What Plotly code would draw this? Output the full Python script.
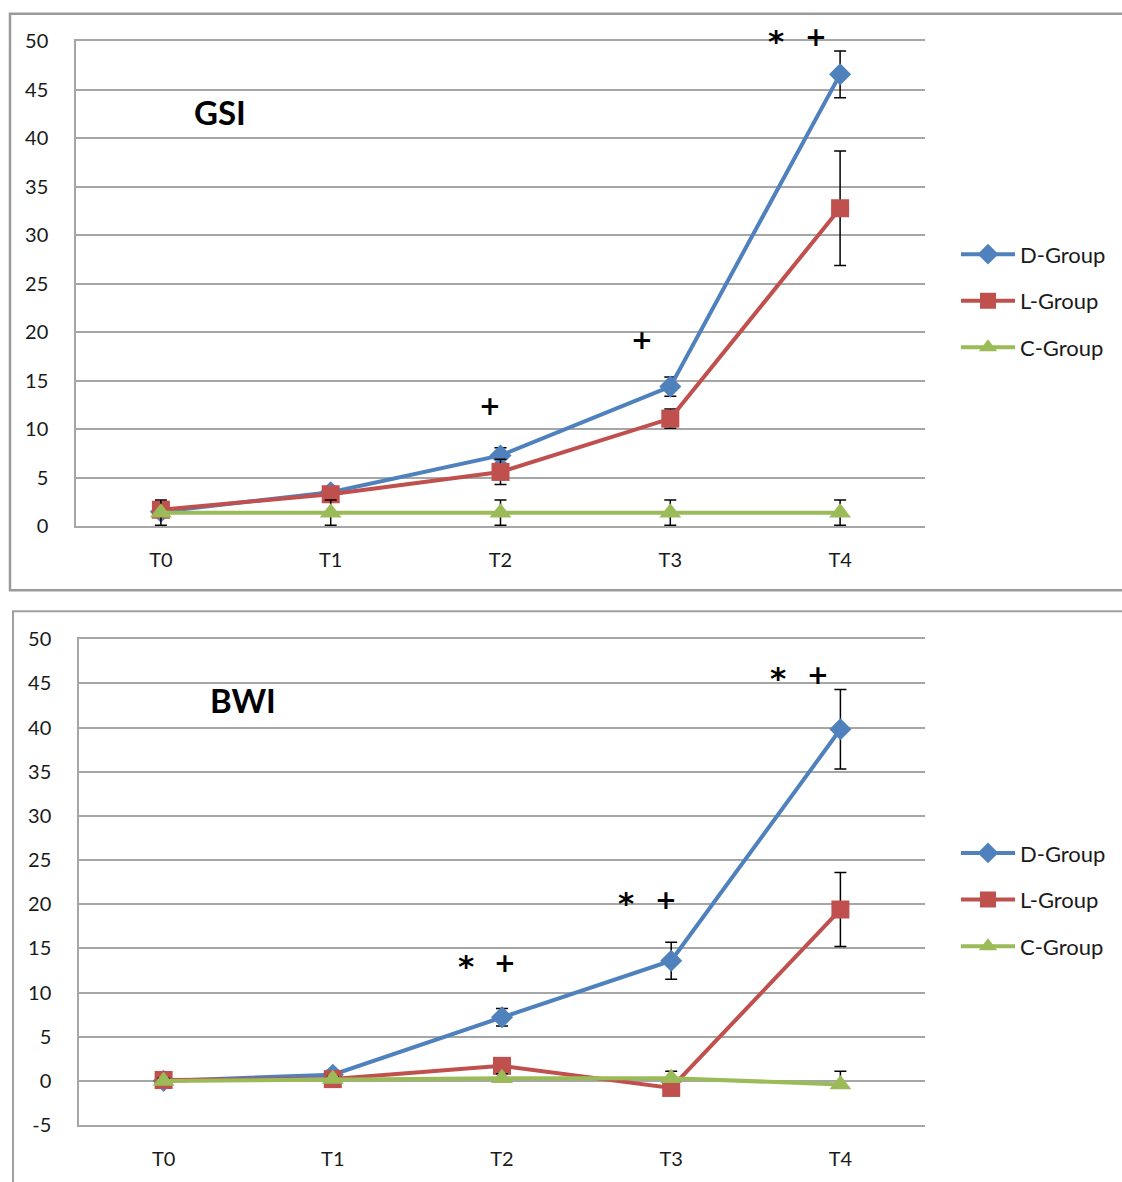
import plotly.graph_objects as go

categories = ["T0", "T1", "T2", "T3", "T4"]
series_names = ["D-Group", "L-Group", "C-Group"]

# GSI panel
gsi_d = [1.5, 3.5, 7.3, 14.4, 46.6]
gsi_l = [1.7, 3.3, 5.6, 11.1, 32.8]
gsi_c = [1.4, 1.4, 1.4, 1.4, 1.4]
gsi_d_err = [0.3, 0.5, 0.8, 1.0, 2.4]
gsi_l_err = [0.3, 0.5, 1.3, 1.0, 5.9]
gsi_c_err = [1.3, 1.3, 1.3, 1.3, 1.3]

# BWI panel
bwi_d = [0.0, 0.7, 7.2, 13.6, 39.8]
bwi_l = [0.1, 0.2, 1.7, -0.8, 19.4]
bwi_c = [0.0, 0.2, 0.3, 0.3, -0.4]
bwi_d_err = [0.2, 0.5, 1.0, 2.1, 4.5]
bwi_l_err = [0.2, 0.3, 0.5, 0.5, 4.2]
bwi_c_err_plus = [0.3, 0.3, 0.5, 0.8, 1.5]
bwi_c_err_minus = [0.0, 0.0, 0.0, 0.0, 0.0]

y_ticks_gsi = list(range(0, 51, 5))
y_ticks_bwi = list(range(-5, 51, 5))
y_ticktext_bwi = [str(v) for v in y_ticks_bwi]  # plain hyphen for "-5"

# significance marks: (x position on category axis, y value, text)
gsi_marks = [(1.94, 12.4, "+"), (2.835, 19.2, "+"), (3.62, 50.8, "*"), (3.86, 50.4, "+")]
bwi_marks = [(1.79, 13.9, "*"), (2.02, 13.3, "+"), (2.735, 21.0, "*"), (2.97, 20.5, "+"),
             (3.63, 46.5, "*"), (3.865, 45.9, "+")]

colors = ["#4F81BD", "#C0504D", "#9BBB59"]
symbols = ["diamond", "square", "triangle-up"]
sizes = [17, 18, 19]
FONT = "Lato"

W, H = 1122, 1182

fig = go.Figure()

def add_panel(vals, errs_plus, errs_minus, xa, ya, legend):
    for i, (name, v) in enumerate(zip(series_names, vals)):
        fig.add_trace(go.Scatter(
            x=categories, y=v, name=name, mode="lines+markers",
            line=dict(color=colors[i], width=4),
            marker=dict(symbol=symbols[i], size=sizes[i], color=colors[i]),
            error_y=dict(type="data", array=errs_plus[i], arrayminus=errs_minus[i],
                         symmetric=False, color="black", thickness=1.5, width=6),
            xaxis=xa, yaxis=ya, legend=legend, legendgroup=legend + name,
        ))

add_panel([gsi_d, gsi_l, gsi_c], [gsi_d_err, gsi_l_err, gsi_c_err],
          [gsi_d_err, gsi_l_err, gsi_c_err], "x", "y", "legend")
add_panel([bwi_d, bwi_l, bwi_c], [bwi_d_err, bwi_l_err, bwi_c_err_plus],
          [bwi_d_err, bwi_l_err, bwi_c_err_minus], "x2", "y2", "legend2")

def px(x):
    return x / W

# the photographed page is drawn with a slight vertical squeeze; map target pixel rows
def py(y):
    page_y = (y - 12.6) / 0.98
    return 1 - page_y / H

axis_font = dict(family=FONT, size=20, color="#1a1a1a")
xcommon = dict(type="category", range=[-0.5, 4.5], showgrid=False, zeroline=False,
               showline=True, linecolor="#a6a6a6", linewidth=1.5, ticks="",
               tickfont=axis_font, ticklabelstandoff=15)
ycommon = dict(showgrid=True, gridcolor="#a6a6a6", gridwidth=1.5, zeroline=False,
               showline=True, linecolor="#a6a6a6", linewidth=1.5, ticks="",
               tickfont=axis_font, ticklabelstandoff=22)

legend_common = dict(xanchor="left", yanchor="top",
                     font=dict(family=FONT, size=22, color="#1a1a1a"),
                     tracegroupgap=15, itemwidth=54, bgcolor="rgba(0,0,0,0)")

GSI_RANGE = [0, 50]
BWI_RANGE = [-5, 50]
gsi_top_px, gsi_bot_px = 41, 526
bwi_top_px, bwi_bot_px = 639, 1125

fig.update_layout(
    width=W, height=H, margin=dict(l=0, r=0, t=0, b=0),
    paper_bgcolor="white", plot_bgcolor="white",
    font=dict(family=FONT),
    showlegend=True,
    xaxis=dict(domain=[px(76), px(925)], anchor="y", mirror=True, **xcommon),
    yaxis=dict(domain=[py(gsi_bot_px), py(gsi_top_px)], range=GSI_RANGE, tickvals=y_ticks_gsi,
               anchor="x", **ycommon),
    xaxis2=dict(domain=[px(79), px(925)], anchor="y2", mirror=True, **xcommon),
    yaxis2=dict(domain=[py(bwi_bot_px), py(bwi_top_px)], range=BWI_RANGE, tickvals=y_ticks_bwi,
                ticktext=y_ticktext_bwi, anchor="x2", **ycommon),
    legend=dict(x=px(956), y=py(233), **legend_common),
    legend2=dict(x=px(956), y=py(832), **legend_common),
)

annotations = []
def mark_font(t):
    return dict(family="DejaVu Sans", size=31 if t == "*" else 26, color="black")

def add_marks(marks, xref, yref, yrange, top_px, bot_px):
    # page pixels per data unit on this axis
    ppu = ((bot_px - top_px) / 0.98) / (yrange[1] - yrange[0])
    ymax = yrange[1] - 0.1
    for (x, y, t) in marks:
        shift = -8 if t == "*" else 0
        yy = y
        if y > ymax:  # keep anchor inside the axis range, lift the text by pixels instead
            shift += (y - ymax) * ppu
            yy = ymax
        annotations.append(dict(x=x, y=yy, xref=xref, yref=yref, text="<b>%s</b>" % t,
                                showarrow=False, font=mark_font(t), yshift=shift))

add_marks(gsi_marks, "x", "y", GSI_RANGE, gsi_top_px, gsi_bot_px)
add_marks(bwi_marks, "x2", "y2", BWI_RANGE, bwi_top_px, bwi_bot_px)

annotations.append(dict(x=px(220), y=py(112), xref="paper", yref="paper", text="<b>GSI</b>",
                        xanchor="center", yanchor="middle",
                        showarrow=False, font=dict(family=FONT, size=33, color="black")))
annotations.append(dict(x=px(243), y=py(700), xref="paper", yref="paper", text="<b>BWI</b>",
                        xanchor="center", yanchor="middle",
                        showarrow=False, font=dict(family=FONT, size=33, color="black")))
fig.update_layout(annotations=annotations)

shapes = [
    dict(type="rect", xref="paper", yref="paper", x0=px(10), x1=1.02, y0=py(590), y1=py(13.4),
         line=dict(color="#9a9a9a", width=2.5)),
    dict(type="rect", xref="paper", yref="paper", x0=px(13), x1=1.02, y0=-0.02, y1=py(611),
         line=dict(color="#a0a0a0", width=2)),
]
fig.update_layout(shapes=shapes)

post = ("document.body.style.margin='0';document.body.style.padding='0';"
        "document.body.style.overflow='hidden';"
        "var d=document.getElementById('{plot_id}');"
        "d.style.position='absolute';d.style.top='0px';d.style.left='0px';")

fig.write_html("out.html", config={"displayModeBar": False}, post_script=post)
